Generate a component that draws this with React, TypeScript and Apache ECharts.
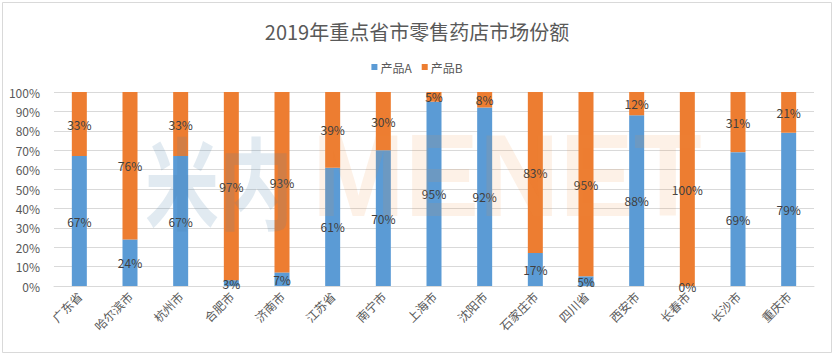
import React, { useEffect, useRef } from "react";
import * as echarts from "echarts";

const categories = ["广东省", "哈尔滨市", "杭州市", "合肥市", "济南市", "江苏省", "南宁市", "上海市", "沈阳市", "石家庄市", "四川省", "西安市", "长春市", "长沙市", "重庆市"];
const productA = [67, 24, 67, 3, 7, 61, 70, 95, 92, 17, 5, 88, 0, 69, 79];
const productB = [33, 76, 33, 97, 93, 39, 30, 5, 8, 83, 95, 12, 100, 31, 21];
const seriesNames = ["产品A", "产品B"];
const titleText = "2019年重点省市零售药店市场份额";

export default function App() {
  const ref = useRef<HTMLDivElement>(null);
  useEffect(() => {
    if (!ref.current) return;
    const chart = echarts.init(ref.current, null, { renderer: "svg" });
    const font = "'Noto Sans CJK SC', sans-serif";
    const label = {
      show: true,
      position: "inside",
      formatter: (p: any) => p.value + "%",
      color: "#404040",
      fontSize: 12,
      fontFamily: font,
    };
    chart.setOption({
      animation: false,
      backgroundColor: "#ffffff",
      title: {
        text: titleText,
        left: "center",
        top: 16,
        textStyle: { fontSize: 20, fontWeight: "normal", color: "#595959", fontFamily: font },
      },
      legend: {
        data: seriesNames,
        top: 56,
        left: "center",
        itemWidth: 6,
        itemHeight: 6,
        itemGap: 10,
        icon: "rect",
        textStyle: { fontSize: 12, color: "#595959", fontFamily: font, padding: [0, 0, 0, -2] },
      },
      grid: { left: 54, right: 20, top: 92, bottom: 70 },
      xAxis: {
        type: "category",
        data: categories,
        axisTick: { show: false },
        axisLine: { lineStyle: { color: "#d9d9d9" } },
        axisLabel: { rotate: 45, color: "#595959", fontSize: 12, fontFamily: font, margin: 8 },
      },
      yAxis: {
        type: "value",
        min: 0,
        max: 100,
        interval: 10,
        axisLabel: { formatter: "{value}%", color: "#595959", fontSize: 12, fontFamily: font, margin: 14 },
        splitLine: { lineStyle: { color: "#d9d9d9" } },
        axisLine: { show: false },
        axisTick: { show: false },
      },
      series: [
        { name: seriesNames[0], type: "bar", stack: "s", data: productA, barWidth: 15, itemStyle: { color: "#5b9bd5" }, label },
        { name: seriesNames[1], type: "bar", stack: "s", data: productB, barWidth: 15, itemStyle: { color: "#ed7d31" }, label },
      ],
      graphic: [
        {
          type: "rect",
          shape: { x: 2.5, y: 2.5, width: 829, height: 350 },
          style: { fill: "none", stroke: "#d9d9d9", lineWidth: 1 },
          z: -1,
        },
        {
          type: "text",
          x: 145,
          y: 128,
          scaleX: 0.74,
          z: 100,
          silent: true,
          style: { text: "米内", fontSize: 100, fontWeight: "bold", fontFamily: font, fill: "rgba(80,130,170,0.17)" },
        },
        {
          type: "text",
          x: 312,
          y: 118,
          scaleX: 0.96,
          z: 100,
          silent: true,
          style: { text: "MENET", fontSize: 116, fontWeight: "bold", fontFamily: "'Liberation Sans', Arial, sans-serif", fill: "rgba(240,140,60,0.12)" },
        },
      ],
    });
    return () => chart.dispose();
  }, []);
  return <div ref={ref} style={{ position: "absolute", left: 0, top: 0, width: 834, height: 356 }} />;
}
